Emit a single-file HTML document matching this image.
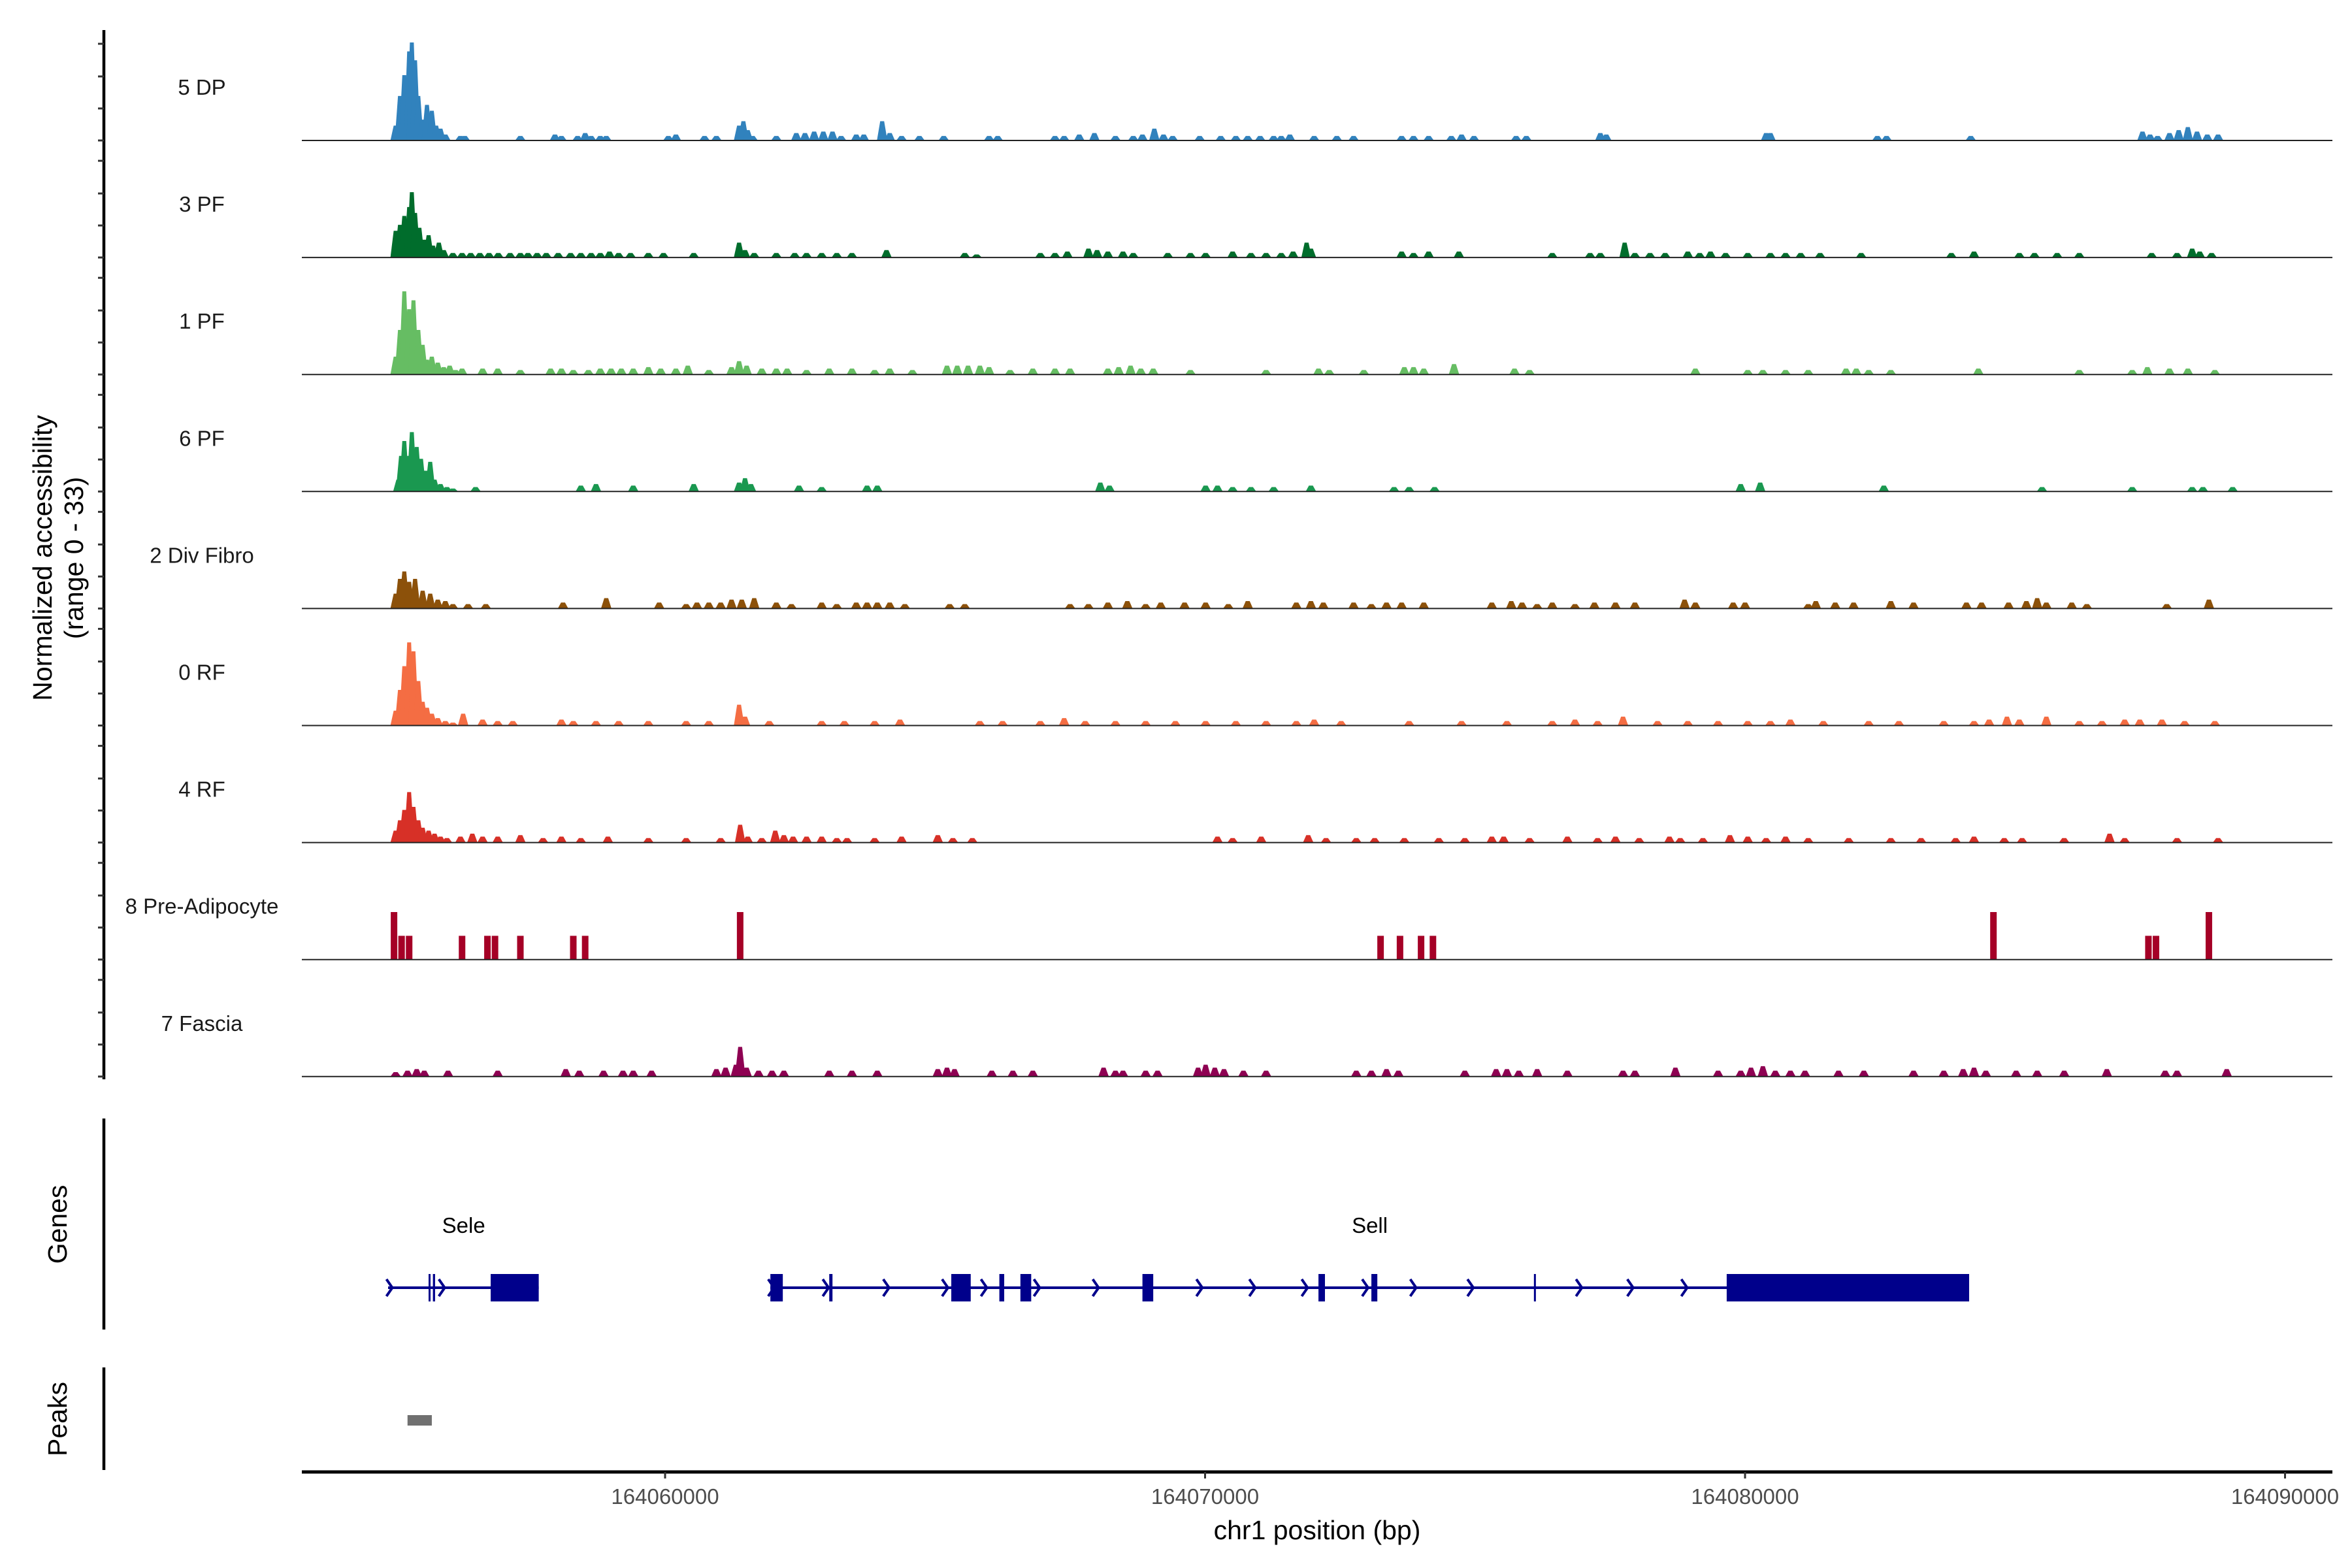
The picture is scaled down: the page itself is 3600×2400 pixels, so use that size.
<!DOCTYPE html>
<html><head><meta charset="utf-8"><style>
html,body{margin:0;padding:0;background:#fff;}
svg{display:block;font-family:"Liberation Sans",Arial,sans-serif;}
</style></head><body>
<svg id="chart" width="3600" height="2400" viewBox="0 0 3600 2400" xmlns="http://www.w3.org/2000/svg">
<g id="tracks"></g>
<g id="genes"></g>
<g id="axes"></g>
</svg>
<script>
// ---- data (positions in kb offset from 164,050,000 bp; values normalized accessibility) ----
const trackNames = ["5 DP","3 PF","1 PF","6 PF","2 Div Fibro","0 RF","4 RF","8 Pre-Adipocyte","7 Fascia"];
const trackColors = ["#3182bd","#006d2c","#66bd63","#1a9850","#8c510a","#f46d43","#d73027","#a50026","#8e0152"];
const xTickValues = [164060000,164070000,164080000,164090000];
const xTickLabels = ["164060000","164070000","164080000","164090000"];
const yRangeMax = 33;

const dpPeaks = [[5.01,5],[5.09,15],[5.17,22],[5.26,30],[5.31,33],[5.37,27],[5.43,15],[5.51,7],[5.59,12],[5.68,10],[5.76,5],[5.84,4],[5.93,2],
[6.21,1.5],[6.29,1.5],[7.32,1.5],[7.96,2],[8.08,1.5],[8.38,1.5],[8.52,2.5],[8.63,1.5],[8.80,1.5],[8.91,1.5],[10.06,1.5],[10.20,2],[10.73,1.5],[10.95,1.5],[11.37,5],[11.45,6.5],[11.53,3.5],[11.62,1.5],[12.06,1.5],[12.43,2.5],[12.59,2.5],[12.76,3],[12.93,3],[13.10,3],[13.26,1.5],[13.54,2],[13.68,2],[14.02,6.5],[14.16,2.5],[14.38,1.5],[14.71,1.5],[15.16,1.5],[16.00,1.5],[16.16,1.5],[17.22,1.5],[17.39,1.5],[17.67,2],[17.95,2.5],[18.34,1.5],[18.67,1.5],[18.84,2],[19.06,4],[19.23,2],[19.40,1.5],[19.90,1.5],[20.29,1.5],[20.57,1.5],[20.79,1.5],[21.02,1.5],[21.27,1.5],[21.41,1.5],[21.57,2],[22.02,1.5],[22.44,1.5],[22.75,1.5],[23.64,1.5],[23.86,1.5],[24.14,1.5],[24.56,1.5],[24.75,2],[24.98,1.5],[25.76,1.5],[25.95,1.5],[27.32,2.5],[27.43,2],[30.39,2.5],[30.47,2.5],[32.45,1.5],[32.62,1.5],[34.18,1.5],[37.36,3],[37.50,2],[37.64,1.5],[37.86,2.5],[38.03,3.5],[38.20,4.5],[38.37,3],[38.56,2],[38.76,2]];
const pf3Peaks = [[5.01,9],[5.09,11],[5.17,14],[5.26,17],[5.31,22],[5.37,15],[5.45,10],[5.54,6],[5.62,7.5],[5.70,4],[5.81,5],[5.90,2.5],
[6.07,1.5],[6.24,1.5],[6.40,1.5],[6.57,1.5],[6.74,1.5],[6.91,1.5],[7.13,1.5],[7.32,1.5],[7.46,1.5],[7.63,1.5],[7.80,1.5],[8.02,1.5],[8.25,1.5],[8.44,1.5],[8.63,1.5],[8.80,1.5],[8.97,2],[9.14,1.5],[9.36,1.5],[9.69,1.5],[9.97,1.5],[10.53,1.5],[11.37,5],[11.48,2.5],[11.65,1.5],[12.06,1.5],[12.40,1.5],[12.62,1.5],[12.90,1.5],[13.18,1.5],[13.46,1.5],[14.10,2.5],[15.55,1.5],[15.77,1],[16.95,1.5],[17.22,1.5],[17.45,2],[17.84,3],[18.00,2.5],[18.20,2],[18.48,2],[18.67,1.5],[19.31,1.5],[19.73,1.5],[20.01,1.5],[20.51,2],[20.85,1.5],[21.13,1.5],[21.41,1.5],[21.63,2],[21.88,5],[21.96,3],[23.64,2],[23.86,1.5],[24.14,2],[24.70,2],[26.43,1.5],[27.13,1.5],[27.32,1.5],[27.77,5],[27.96,1.5],[28.24,1.5],[28.52,1.5],[28.94,2],[29.16,1.5],[29.36,2],[29.64,1.5],[30.05,1.5],[30.47,1.5],[30.75,1.5],[31.03,1.5],[31.39,1.5],[32.15,1.5],[33.82,1.5],[34.24,2],[35.08,1.5],[35.36,1.5],[35.78,1.5],[36.19,1.5],[37.53,1.5],[38.00,1.5],[38.28,3],[38.42,2],[38.64,1.5]];
const pf1Peaks = [[5.01,6],[5.09,15],[5.17,28],[5.26,22],[5.34,25],[5.43,15],[5.51,10],[5.59,5],[5.68,6],[5.79,4],[5.90,2.5],[6.01,3],[6.12,1.5],[6.24,2],
[6.62,2],[6.90,2],[7.32,1.5],[7.88,2],[8.08,2],[8.30,1.5],[8.58,1.5],[8.80,2],[9.00,2],[9.19,2],[9.41,2],[9.69,2.5],[9.92,2],[10.20,2],[10.42,3],[10.81,1.5],[11.23,2.5],[11.37,4.5],[11.51,3],[11.79,2],[12.06,2],[12.26,2],[12.62,1.5],[13.04,2],[13.46,2],[13.88,1.5],[14.16,2],[14.58,1.5],[15.22,3],[15.41,3],[15.61,3],[15.83,3],[16.00,2.5],[16.39,1.5],[16.81,2],[17.22,2],[17.50,2],[18.20,2],[18.40,2.5],[18.62,3],[18.81,2],[19.04,2],[19.73,1.5],[21.13,1.5],[22.10,2],[22.30,1.5],[22.94,1.5],[23.69,2.5],[23.86,2.5],[24.05,2],[24.61,3.5],[25.73,2],[26.01,1.5],[29.08,2],[30.05,1.5],[30.33,1.5],[30.75,1.5],[31.17,1.5],[31.87,2],[32.06,2],[32.29,1.5],[32.70,1.5],[34.32,2],[36.19,1.5],[37.17,1.5],[37.45,2.5],[37.86,2],[38.20,2],[38.70,1.5]];
const pf6Peaks = [[5.06,4],[5.11,12],[5.17,17],[5.26,12],[5.31,20],[5.40,15],[5.48,11],[5.57,7],[5.65,10],[5.73,4],[5.84,2.5],[5.96,1.5],[6.07,1],
[6.49,1.5],[8.44,2],[8.72,2.5],[9.41,2],[10.53,2.5],[11.37,3],[11.48,4.5],[11.59,2.5],[12.48,2],[12.90,1.5],[13.74,2],[13.93,2],[18.06,3],[18.23,2],[20.01,2],[20.23,2],[20.51,1.5],[20.85,1.5],[21.27,1.5],[21.96,2],[23.50,1.5],[23.78,1.5],[24.25,1.5],[29.92,2.5],[30.28,3],[32.57,2],[35.50,1.5],[37.17,1.5],[38.28,1.5],[38.48,1.5],[39.03,1.5]];
const divPeaks = [[5.01,5],[5.09,10],[5.17,12.5],[5.26,9],[5.37,10],[5.51,6],[5.65,5],[5.79,3],[5.93,2.5],[6.07,1.5],
[6.35,1.5],[6.68,1.5],[8.11,2],[8.91,3.5],[9.89,2],[10.39,1.5],[10.59,2],[10.81,2],[11.03,2],[11.23,3],[11.42,3],[11.65,3.5],[12.06,2],[12.34,1.5],[12.90,2],[13.18,1.5],[13.54,2],[13.74,2],[13.93,2],[14.16,2],[14.44,1.5],[15.27,1.5],[15.55,1.5],[17.50,1.5],[17.84,1.5],[18.20,2],[18.56,2.5],[18.90,1.5],[19.18,2],[19.62,2],[20.01,2],[20.43,1.5],[20.79,2.5],[21.69,2],[21.96,2.5],[22.19,2],[22.75,2],[23.08,1.5],[23.36,2],[23.64,2],[24.05,2],[25.31,2],[25.67,2.5],[25.87,2],[26.15,1.5],[26.43,2],[26.85,1.5],[27.21,2],[27.60,2],[27.96,2],[28.88,3],[29.08,2],[29.78,2],[30.00,2],[31.17,1.5],[31.31,2.5],[31.67,2],[32.01,2],[32.70,2.5],[33.12,2],[34.10,2],[34.38,2],[34.88,2],[35.21,2.5],[35.41,3.5],[35.58,2],[36.05,2],[36.33,1.5],[37.81,1.5],[38.59,3]];
const rf0Peaks = [[5.01,5],[5.09,12],[5.17,20],[5.26,28],[5.34,25],[5.43,15],[5.51,8],[5.59,6],[5.68,4],[5.79,2.5],[5.93,1.5],[6.07,1],
[6.26,4],[6.62,2],[6.90,1.5],[7.18,1.5],[8.08,2],[8.30,1.5],[8.72,1.5],[9.14,1.5],[9.69,1.5],[10.39,1.5],[10.81,1.5],[11.37,7],[11.48,3],[11.93,1.5],[12.90,1.5],[13.32,1.5],[13.88,1.5],[14.35,2],[15.83,1.5],[16.25,1.5],[16.95,1.5],[17.39,2.5],[17.78,1.5],[18.34,1.5],[18.90,1.5],[19.45,1.5],[20.01,1.5],[20.57,1.5],[21.13,1.5],[21.69,1.5],[22.02,2],[22.52,1.5],[23.78,1.5],[24.75,1.5],[25.59,1.5],[26.43,1.5],[26.85,2],[27.27,1.5],[27.74,3],[28.38,1.5],[28.94,1.5],[29.50,1.5],[30.05,1.5],[30.47,1.5],[30.84,2],[31.45,1.5],[32.29,1.5],[32.85,1.5],[33.68,1.5],[34.24,1.5],[34.52,2],[34.85,3],[35.08,2],[35.58,3],[36.19,1.5],[36.61,1.5],[37.03,2],[37.31,2],[37.72,2],[38.14,1.5],[38.70,1.5]];
const rf4Peaks = [[5.01,4],[5.09,7.5],[5.17,11],[5.26,17],[5.34,12],[5.43,7.5],[5.51,5],[5.62,4],[5.73,3],[5.84,2],[5.96,1.5],
[6.21,2],[6.43,3],[6.62,2],[6.90,2],[7.32,2.5],[7.74,1.5],[8.08,2],[8.44,1.5],[8.94,2],[9.69,1.5],[10.39,1.5],[11.03,1.5],[11.39,6],[11.53,2],[11.79,1.5],[12.04,4],[12.20,2.5],[12.37,2],[12.62,2],[12.90,2],[13.18,1.5],[13.37,1.5],[13.88,1.5],[14.38,2],[15.05,2.5],[15.33,1.5],[15.69,1.5],[20.23,2],[20.51,1.5],[21.04,2],[21.91,2.5],[22.24,1.5],[22.80,1.5],[23.14,1.5],[23.69,1.5],[24.33,1.5],[24.81,1.5],[25.31,2],[25.53,2],[26.01,1.5],[26.71,2],[27.27,1.5],[27.60,2],[28.04,1.5],[28.60,2],[28.80,1.5],[29.22,1.5],[29.72,2.5],[30.05,2],[30.39,1.5],[30.75,2],[31.17,1.5],[31.92,1.5],[32.70,1.5],[33.26,1.5],[33.90,1.5],[34.24,2],[34.80,1.5],[35.13,1.5],[35.91,1.5],[36.75,3],[37.03,1.5],[38.00,1.5],[38.76,1.5]];
const preAdipoPeaks = [[4.98,16],[5.12,8],[5.26,8],[6.24,8],[6.71,8],[6.85,8],[7.32,8],[8.30,8],[8.52,8],[11.39,16],[23.25,8],[23.61,8],[24.00,8],[24.22,8],[34.60,16],[37.47,8],[37.61,8],[38.59,16]];
const fasciaPeaks = [[5.01,1.5],[5.23,2],[5.40,2.5],[5.54,2],[5.98,2],[6.90,2],[8.16,2.5],[8.41,2],[8.86,2],[9.22,2],[9.41,2],[9.75,2],[10.95,2.5],[11.12,3],[11.31,4],[11.39,10],[11.51,3],[11.73,2],[11.98,2],[12.20,2],[13.04,2],[13.46,2],[13.93,2],[15.05,2.5],[15.22,3],[15.36,2.5],[16.05,2],[16.44,2],[16.81,2],[18.12,3],[18.34,2],[18.48,2],[18.90,2],[19.12,2],[19.87,3],[20.01,4],[20.18,3],[20.35,2.5],[20.71,2],[21.13,2],[22.80,2],[23.08,2],[23.36,2.5],[23.58,2],[24.81,2],[25.39,2.5],[25.59,2.5],[25.81,2],[26.15,2.5],[26.71,2],[27.74,2],[27.96,2],[28.71,3],[29.50,2],[29.92,2],[30.11,3],[30.33,3.5],[30.56,2],[30.84,2],[31.11,2],[31.73,2],[32.20,2],[33.12,2],[33.68,2],[34.04,2.5],[34.24,3],[34.46,2],[35.02,2],[35.41,2],[35.91,2],[36.70,2.5],[37.78,2],[38.00,2],[38.92,2.5]];
const trackPeaks = [dpPeaks,pf3Peaks,pf1Peaks,pf6Peaks,divPeaks,rf0Peaks,rf4Peaks,preAdipoPeaks,fasciaPeaks];

const geneNames = ["Sele","Sell"];
const geneLabelPos = [6.27,23.05];
const geneStarts = [4.87,11.95];
const geneEnds = [7.66,34.15];
const seleExons = [[5.62,5.64],[5.70,5.74],[6.77,7.66]];
const sellExons = [[11.95,12.18],[13.04,13.10],[15.30,15.66],[16.19,16.28],[16.58,16.78],[18.84,19.04],[22.10,22.22],[23.08,23.19],[26.09,26.11],[29.66,34.15]];
const geneExons = [seleExons, sellExons];
const seleArrows = [4.90,5.87];
const sellArrows = [11.97,12.98,14.10,15.19,15.91,16.89,17.98,19.90,20.88,21.85,22.97,23.86,24.92,26.93,27.88,28.88];
const geneArrows = [seleArrows, sellArrows];
const peakRegions = [[5.23,5.68]];

// ---- scales ----
const NS="http://www.w3.org/2000/svg";
const X0=462, X1=3570;
function xScale(kb){ return 1018 + (kb-10)*82.65; }
function xBp(bp){ return xScale((bp-164050000)/1000); }
const baseline0=215, trackStep=179.1, trackPx=150;
function yVal(v){ return v/yRangeMax*trackPx; }
function mk(tag,attrs,parent){ const e=document.createElementNS(NS,tag); for(const k in attrs) e.setAttribute(k,attrs[k]); parent.appendChild(e); return e; }

const gT=document.getElementById('tracks');
trackNames.forEach((name,i)=>{
  const b=baseline0+i*trackStep;
  const g=mk('g',{},gT);
  
  
  const lab=mk('text',{x:309,y:b-70,'font-size':33,'text-anchor':'middle',fill:'#1a1a1a'},g);
  lab.textContent=name;
  
  
  const rect = (i===7);
  trackPeaks[i].forEach(p=>{
    const cx=xScale(p[0]), h=yVal(p[1]);
    let pts;
    if(rect){ const w=5; pts=`${cx-w},${b} ${cx-w},${b-h} ${cx+w},${b-h} ${cx+w},${b}`; }
    else { const w=8, t=3; pts=`${cx-w},${b} ${cx-t},${b-h} ${cx+t},${b-h} ${cx+w},${b}`; }
    const pg=mk('polygon',{points:pts,fill:trackColors[i]},g);
    
    
  });
  const bl=mk('line',{x1:X0,x2:X1,y1:b,y2:b,stroke:'#222','stroke-width':2},g);
  
  
});

// genes
const gG=document.getElementById('genes');
const gy=1971, col='#00008b';
geneNames.forEach((n,gi)=>{
  const g=mk('g',{},gG);
  
  
  mk('line',{x1:xScale(geneStarts[gi]),x2:xScale(geneEnds[gi]),y1:gy,y2:gy,stroke:col,'stroke-width':4},g);
  geneExons[gi].forEach(e=>{
    const x1=xScale(e[0]), x2=xScale(e[1]);
    const r=mk('rect',{x:x1,y:gy-21,width:Math.max(3,x2-x1),height:42,fill:col},g);
    
    
  });
  geneArrows[gi].forEach(a=>{
    const x=xScale(a);
    const ar=mk('polyline',{points:`${x-5},${gy-13} ${x+4},${gy} ${x-5},${gy+13}`,fill:'none',stroke:col,'stroke-width':4},g);
    
    
  });
  const t=mk('text',{x:xScale(geneLabelPos[gi]),y:1887,'font-size':33,'text-anchor':'middle',fill:'#000'},g);
  t.textContent=n;
  
  
});
peakRegions.forEach(p=>{
  const r=mk('rect',{x:xScale(p[0]),y:2166,width:xScale(p[1])-xScale(p[0]),height:16,fill:'#707070'},gG);
  
  
});

// axes
const gA=document.getElementById('axes');
let e;
e=mk('line',{x1:159,x2:159,y1:46,y2:1652,stroke:'#000','stroke-width':4.5},gA);


trackNames.forEach((n,i)=>{
  const b=baseline0+i*trackStep;
  [0,49,98,148].forEach(o=>{
    const tk=mk('line',{x1:150,x2:159,y1:b-o,y2:b-o,stroke:'#333','stroke-width':3},gA);
    
    
  });
});
e=mk('line',{x1:159,x2:159,y1:1712,y2:2035,stroke:'#000','stroke-width':4.5},gA);


e=mk('line',{x1:159,x2:159,y1:2093,y2:2250,stroke:'#000','stroke-width':4.5},gA);


e=mk('text',{x:0,y:0,'font-size':41,'text-anchor':'middle',fill:'#000',transform:'translate(79,854) rotate(-90)'},gA);
e.textContent='Normalized accessibility';


e=mk('text',{x:0,y:0,'font-size':41,'text-anchor':'middle',fill:'#000',transform:'translate(127,854) rotate(-90)'},gA);
e.textContent='(range 0 - 33)';


e=mk('text',{x:0,y:0,'font-size':41,'text-anchor':'middle',fill:'#000',transform:'translate(102,1874) rotate(-90)'},gA);
e.textContent='Genes';


e=mk('text',{x:0,y:0,'font-size':41,'text-anchor':'middle',fill:'#000',transform:'translate(102,2172) rotate(-90)'},gA);
e.textContent='Peaks';


e=mk('line',{x1:X0,x2:X1,y1:2253,y2:2253,stroke:'#000','stroke-width':5},gA);


xTickValues.forEach((v,i)=>{
  const x=xBp(v);
  const t=mk('line',{x1:x,x2:x,y1:2253,y2:2263,stroke:'#333','stroke-width':3},gA);
  
  
  const l=mk('text',{x:x,y:2302,'font-size':33,'text-anchor':'middle',fill:'#4d4d4d'},gA);
  l.textContent=xTickLabels[i];
  
  
});
e=mk('text',{x:2016,y:2356,'font-size':41,'text-anchor':'middle',fill:'#000'},gA);
e.textContent='chr1 position (bp)';


</script>
</body></html>
